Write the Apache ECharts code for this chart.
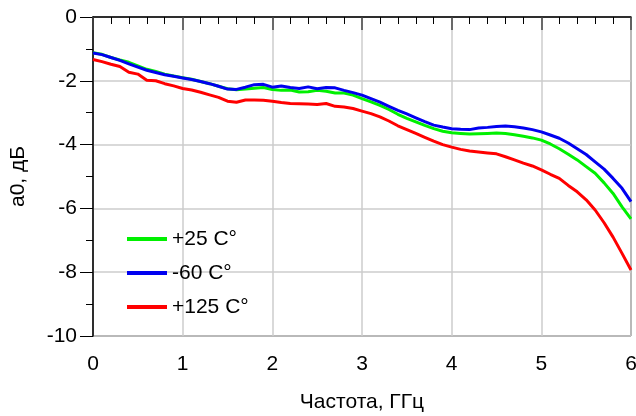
<!DOCTYPE html>
<html>
<head>
<meta charset="utf-8">
<script src="https://cdn.jsdelivr.net/npm/echarts@6/dist/echarts.min.js"></script>
<style>html,body{margin:0;padding:0;background:#fff}#c{width:636px;height:416px}</style>
</head>
<body>
<div id="c"></div>
<script>
const freq = [0,0.1,0.2,0.3,0.4,0.5,0.6,0.7,0.8,0.9,1.0,1.1,1.2,1.3,1.4,1.5,1.6,1.7,1.8,1.9,2.0,2.1,2.2,2.3,2.4,2.5,2.6,2.7,2.8,2.9,3.0,3.1,3.2,3.3,3.4,3.5,3.6,3.7,3.8,3.9,4.0,4.1,4.2,4.3,4.4,4.5,4.6,4.7,4.8,4.9,5.0,5.1,5.2,5.3,5.4,5.5,5.6,5.7,5.8,5.9,6.0];
const seriesNames = ['+25 C°', '-60 C°', '+125 C°'];
const green25 = [-1.12,-1.17,-1.27,-1.35,-1.42,-1.53,-1.64,-1.71,-1.79,-1.85,-1.90,-1.95,-2.02,-2.09,-2.17,-2.25,-2.28,-2.26,-2.23,-2.21,-2.27,-2.30,-2.29,-2.35,-2.34,-2.30,-2.33,-2.38,-2.38,-2.45,-2.56,-2.66,-2.77,-2.90,-3.05,-3.18,-3.29,-3.40,-3.50,-3.58,-3.63,-3.65,-3.67,-3.66,-3.65,-3.64,-3.65,-3.69,-3.74,-3.79,-3.86,-3.98,-4.13,-4.30,-4.48,-4.69,-4.90,-5.20,-5.53,-5.95,-6.33];
const blueM60 = [-1.13,-1.18,-1.27,-1.36,-1.47,-1.57,-1.67,-1.74,-1.81,-1.86,-1.91,-1.96,-2.02,-2.09,-2.17,-2.26,-2.27,-2.20,-2.12,-2.11,-2.20,-2.16,-2.21,-2.24,-2.19,-2.25,-2.21,-2.22,-2.30,-2.37,-2.45,-2.56,-2.67,-2.80,-2.93,-3.04,-3.16,-3.28,-3.39,-3.45,-3.50,-3.52,-3.53,-3.48,-3.46,-3.43,-3.42,-3.44,-3.48,-3.53,-3.60,-3.70,-3.80,-3.95,-4.13,-4.31,-4.54,-4.77,-5.06,-5.37,-5.79];
const red125 = [-1.33,-1.40,-1.48,-1.55,-1.73,-1.79,-1.98,-2.00,-2.09,-2.16,-2.24,-2.29,-2.36,-2.44,-2.52,-2.64,-2.67,-2.60,-2.60,-2.61,-2.64,-2.68,-2.71,-2.72,-2.73,-2.74,-2.71,-2.80,-2.82,-2.87,-2.95,-3.03,-3.13,-3.26,-3.41,-3.53,-3.65,-3.77,-3.89,-4.00,-4.08,-4.15,-4.20,-4.23,-4.26,-4.29,-4.38,-4.48,-4.58,-4.67,-4.79,-4.93,-5.06,-5.28,-5.48,-5.73,-6.05,-6.45,-6.90,-7.41,-7.93];
const colors = ['#00f000', '#0000f0', '#ff0000'];

const chart = echarts.init(document.getElementById('c'));
const font = 'Liberation Sans, Arial, sans-serif';
const pair = arr => freq.map((f, i) => [f, arr[i]]);
const mk = (name, arr, color) => ({
  name, type: 'line', data: pair(arr), showSymbol: false, symbol: 'none',
  lineStyle: { color, width: 3 }, itemStyle: { color }, smooth: false, animation: false
});
chart.setOption({
  animation: false,
  grid: { left: 93, right: 5, top: 17, bottom: 80, show: true, borderColor: '#000', borderWidth: 1, outerBoundsMode: 'none', containLabel: false },
  legend: {
    left: 122, top: 220, orient: 'vertical', itemWidth: 40, itemHeight: 4, itemGap: 6,
    icon: 'rect',
    textStyle: { fontFamily: font, fontSize: 21, color: '#000', lineHeight: 22, padding: [6, 0, 0, 0] },
    data: seriesNames
  },
  xAxis: {
    type: 'value', min: 0, max: 6, interval: 1,
    name: 'Частота, ГГц', nameLocation: 'middle', nameGap: 56,
    nameTextStyle: { fontFamily: font, fontSize: 21, color: '#000' },
    axisLine: { lineStyle: { color: '#000', width: 1.5 } },
    axisTick: { show: true, length: 13, lineStyle: { color: '#444', width: 1.5 } },
    minorTick: { show: true, splitNumber: 5, length: 7, lineStyle: { color: '#000', width: 1 } },
    axisLabel: { fontFamily: font, fontSize: 21, color: '#000', margin: 18 },
    splitLine: { show: true, lineStyle: { color: '#cccccc', width: 1.5 } }
  },
  yAxis: {
    type: 'value', min: -10, max: 0, interval: 2,
    name: 'a0, дБ', nameLocation: 'middle', nameGap: 64, nameRotate: 90,
    nameTextStyle: { fontFamily: font, fontSize: 21, color: '#000' },
    axisLine: { show: true, lineStyle: { color: '#000', width: 1.5 } },
    axisTick: { show: true, length: 13, lineStyle: { color: '#000', width: 1 } },
    minorTick: { show: true, splitNumber: 2, length: 7, lineStyle: { color: '#000', width: 1 } },
    axisLabel: { fontFamily: font, fontSize: 21, color: '#000', margin: 16 },
    splitLine: { show: true, lineStyle: { color: '#cccccc', width: 1.5 } }
  },
  series: [
    mk(seriesNames[0], green25, colors[0]),
    mk(seriesNames[1], blueM60, colors[1]),
    mk(seriesNames[2], red125, colors[2])
  ]
});
</script>
</body>
</html>
